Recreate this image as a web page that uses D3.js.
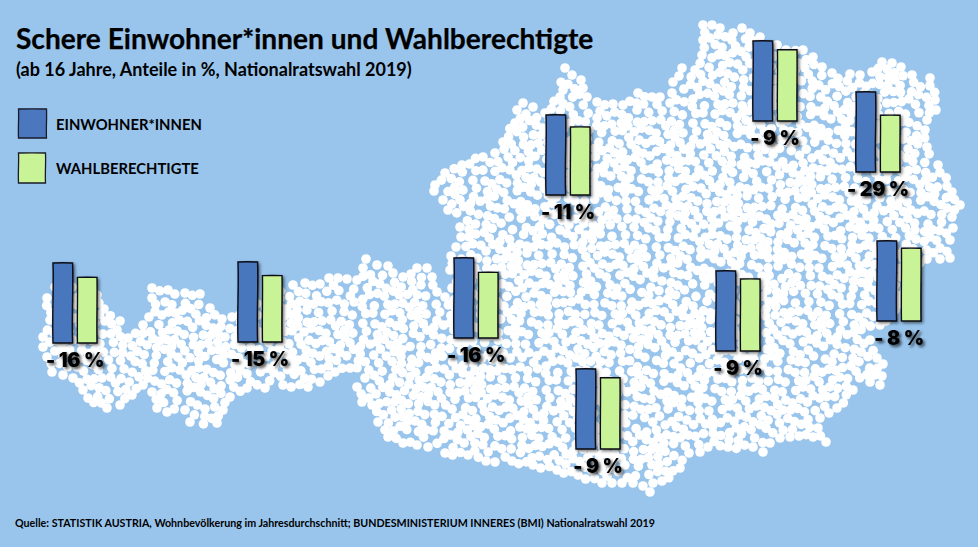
<!DOCTYPE html>
<html lang="de"><head><meta charset="utf-8">
<script src="https://cdn.jsdelivr.net/npm/d3@7/dist/d3.min.js"></script>
<style>html,body{margin:0;padding:0;background:#99c5ed}svg{display:block}text{font-family:Lato,"Open Sans",sans-serif;fill:#000}</style>
</head><body><svg id="c" width="978" height="547"></svg>
<script>
const regions=["Vorarlberg","Tirol","Salzburg","Oberösterreich","Niederösterreich","Wien","Burgenland","Steiermark","Kärnten"];
const einwohner=[100,100,100,100,100,100,100,100,100];
const wahlberechtigte=[82,83,82,85,89,71,91,90,89];
const labels=["- 16 %","- 15 %","- 16 %","- 11 %","- 9 %","- 29 %","- 8 %","- 9 %","- 9 %"];
const seriesNames=["EINWOHNER*INNEN","WAHLBERECHTIGTE"];
const seriesColors=["#4a77bd","#c8f497"];
// layout: where each region's bar pair sits on the map (left edge, baseline)
const anchorX=[53,238,454,546,753,856,877,716,576];
const anchorY=[343,342,338,195,121,172,321,351,449];
// outline of the dot map, traced on the picture
const outline=[[47,298],[55,287],[72,287],[97,295],[104,309],[120,321],[117,330],[128,338],[143,325],[149,317],[152,298],[152,288],[168,290],[185,293],[200,294],[210,308],[222,319],[232,317],[245,310],[270,300],[293,285],[305,283],[320,284],[329,278],[338,278],[347,279],[357,280],[363,268],[366,259],[377,265],[388,266],[393,273],[403,277],[417,268],[427,268],[432,277],[437,292],[445,297],[452,288],[450,270],[451,256],[456,247],[461,237],[460,227],[448,210],[443,200],[434,191],[435,185],[445,173],[462,165],[483,157],[495,153],[503,142],[515,123],[517,110],[523,103],[533,107],[545,113],[560,97],[565,68],[572,75],[581,80],[583,88],[587,97],[597,102],[613,104],[623,105],[638,93],[652,97],[660,97],[670,103],[672,93],[673,82],[682,68],[695,70],[702,55],[703,40],[703,25],[712,25],[720,28],[733,33],[742,28],[750,33],[760,37],[777,45],[786,50],[803,50],[813,57],[822,67],[832,73],[850,74],[860,75],[872,72],[882,62],[892,63],[901,67],[912,75],[930,78],[935,100],[936,110],[927,120],[925,130],[927,147],[938,165],[952,192],[960,205],[952,217],[953,228],[950,240],[950,258],[940,259],[927,259],[915,270],[905,290],[895,310],[880,325],[870,340],[877,358],[883,364],[882,376],[880,385],[870,382],[853,390],[837,408],[829,413],[820,418],[818,428],[826,442],[813,437],[799,436],[790,437],[780,438],[770,443],[763,452],[753,447],[728,447],[708,447],[700,452],[689,453],[680,468],[662,481],[653,483],[650,492],[643,486],[633,483],[622,483],[612,483],[602,483],[578,475],[557,470],[533,465],[512,461],[495,462],[486,461],[468,455],[445,453],[428,447],[417,445],[403,443],[388,437],[378,422],[372,405],[362,402],[357,387],[365,378],[350,368],[335,372],[320,382],[308,387],[283,385],[265,388],[247,388],[230,397],[223,410],[217,423],[190,422],[185,410],[167,412],[157,408],[152,392],[143,385],[132,395],[120,405],[107,408],[88,398],[83,390],[73,378],[63,375],[52,372],[47,357],[43,347],[43,337],[50,320]];

const svg=d3.select("#c");
const defs=svg.append("defs");
const shadow=(id,dx,dy,sd,op)=>{const f=defs.append("filter").attr("id",id).attr("x","-30%").attr("y","-30%").attr("width","170%").attr("height","170%");
  f.append("feDropShadow").attr("dx",dx).attr("dy",dy).attr("stdDeviation",sd).attr("flood-color","#000").attr("flood-opacity",op);};
shadow("barShadow",1.5,1.5,1.6,.55);
shadow("labelShadow",2,2,1.6,.7);

svg.append("rect").attr("width",978).attr("height",547).attr("fill","#99c5ed");

// dot texture: boundary dots, then a deterministic Halton-sequence dart throw
const dotR=4.8,minD=7.0,cell=7.5;
const grid=new Map();
const key=(i,j)=>i+","+j;
const dots=[];
function free(x,y,d){const i=Math.floor(x/cell),j=Math.floor(y/cell);
  for(let a=-1;a<=1;a++)for(let b=-1;b<=1;b++){const g=grid.get(key(i+a,j+b));if(g)for(const p of g){if((p[0]-x)**2+(p[1]-y)**2<d*d)return false;}}
  return true;}
function add(x,y){dots.push([x,y]);const k=key(Math.floor(x/cell),Math.floor(y/cell));if(!grid.has(k))grid.set(k,[]);grid.get(k).push([x,y]);}
outline.forEach(p=>{if(free(p[0],p[1],5.5))add(p[0],p[1]);});
outline.forEach((p,i)=>{const q=outline[(i+1)%outline.length];const len=Math.hypot(q[0]-p[0],q[1]-p[1]);const n=Math.floor(len/8.5);
  const nx=-(q[1]-p[1])/(len||1),ny=(q[0]-p[0])/(len||1);
  for(let k=1;k<=n;k++){const t=k/(n+1),o=k%2?1.8:-1.4,x=p[0]+(q[0]-p[0])*t+nx*o,y=p[1]+(q[1]-p[1])*t+ny*o;if(free(x,y,7.2))add(x,y);}});
function halton(n,b){let f=1,r=0;while(n>0){f/=b;r+=f*(n%b);n=Math.floor(n/b);}return r;}
const xs=d3.extent(outline,d=>d[0]),ys=d3.extent(outline,d=>d[1]);
for(let n=1;n<=90000;n++){
  const x=xs[0]+(xs[1]-xs[0])*halton(n,5),y=ys[0]+(ys[1]-ys[0])*halton(n,7);
  if(free(x,y,minD)&&d3.polygonContains(outline,[x,y]))add(x,y);
}
svg.append("g").attr("fill","#fff").selectAll("circle").data(dots).join("circle")
  .attr("cx",d=>d[0]).attr("cy",d=>d[1]).attr("r",dotR);

// hand-sketched rectangle
function sketch(x,y,w,h,a){const p=d3.path();
  p.moveTo(x,y);p.quadraticCurveTo(x+w/2,y-.6*a,x+w,y);
  p.bezierCurveTo(x+w+a,y+h*.3,x+w-a,y+h*.6,x+w,y+h);
  p.lineTo(x,y+h);
  p.bezierCurveTo(x-a,y+h*.6,x+a,y+h*.3,x,y);p.closePath();return p.toString();}

const yH=d3.scaleLinear().domain([0,100]).range([0,80]);
const xB=d3.scaleBand().domain([0,1]).range([0,44]).paddingInner(.2);
const rows=regions.map((r,i)=>({r,i,v:[einwohner[i],wahlberechtigte[i]],label:labels[i]}));
const groups=svg.append("g").selectAll("g").data(rows).join("g")
  .attr("transform",d=>`translate(${anchorX[d.i]},${anchorY[d.i]})`);
groups.selectAll("path").data(d=>d.v.map((v,s)=>({v,s}))).join("path")
  .attr("d",d=>sketch(xB(d.s),-yH(d.v),xB.bandwidth(),yH(d.v),d.s===0?1:.4))
  .attr("fill",d=>seriesColors[d.s]).attr("stroke","#0a0a14").attr("stroke-width",1.4)
  .attr("filter","url(#barShadow)");
groups.append("text").text(d=>d.label).attr("x",22).attr("y",24).attr("text-anchor","middle")
  .style("font-family","Inter").attr("font-size",19.5).attr("font-weight",900).attr("letter-spacing",-.2)
  .attr("filter","url(#labelShadow)");

// title block
svg.append("text").text("Schere Einwohner*innen und Wahlberechtigte").attr("x",16).attr("y",49).attr("font-size",28.1).attr("font-weight",700).attr("stroke","#000").attr("stroke-width",.25);
svg.append("text").text("(ab 16 Jahre, Anteile in %, Nationalratswahl 2019)").attr("x",16).attr("y",76).attr("font-size",18).attr("font-weight",700);

// legend
const legY=[109,153];
const leg=svg.append("g").selectAll("g").data(seriesNames).join("g").attr("transform",(d,i)=>`translate(18,${legY[i]})`);
leg.append("path").attr("d",(d,i)=>sketch(.5,0,i?27:28,i?30:29,.5)).attr("fill",(d,i)=>seriesColors[i]).attr("stroke","#1a1a2a").attr("stroke-width",1.3);
leg.append("text").text(d=>d).attr("x",38).attr("y",21).attr("font-size",14.8).attr("font-weight",700);

svg.append("text").text("Quelle: STATISTIK AUSTRIA, Wohnbevölkerung im Jahresdurchschnitt; BUNDESMINISTERIUM INNERES (BMI) Nationalratswahl 2019")
  .attr("x",15).attr("y",527).attr("font-size",10.7).attr("font-weight",700);
</script></body></html>
